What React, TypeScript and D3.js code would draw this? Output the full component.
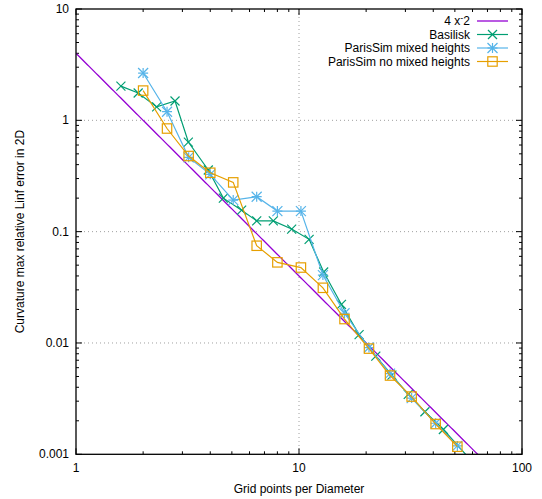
import React from "react";
import * as d3 from "d3";

const basiliskX = [1.59, 1.9, 2.3, 2.78, 3.19, 3.92, 4.58, 5.53, 6.46, 7.67, 9.27, 11.1, 12.9, 15.5, 18.6, 22.1, 26.1, 30.9, 36.7, 44.4, 58];
const basiliskY = [2.03, 1.76, 1.32, 1.49, 0.638, 0.358, 0.2, 0.156, 0.125, 0.125, 0.1055, 0.0853, 0.0434, 0.0222, 0.0119, 0.00762, 0.00515, 0.00345, 0.00241, 0.00167, 0.00092];
const parisX = [2, 2.56, 3.2, 4, 5.07, 6.46, 8, 10.2, 12.8, 16, 20.6, 25.6, 32, 41, 51.3];
const mixedY = [2.66, 1.195, 0.465, 0.327, 0.192, 0.206, 0.153, 0.153, 0.0407, 0.0185, 0.0091, 0.0053, 0.0032, 0.0019, 0.00119];
const noMixedY = [1.85, 0.844, 0.478, 0.338, 0.277, 0.0747, 0.053, 0.0476, 0.0313, 0.0164, 0.0089, 0.0051, 0.0033, 0.00187, 0.00117];
const xTicks = [1, 10, 100];
const yTicks = [0.001, 0.01, 0.1, 1, 10];
const xTickLabels = ["1", "10", "100"];
const yTickLabels = ["0.001", "0.01", "0.1", "1", "10"];

const W = 542, H = 499;
const L = 76, R = 522, T = 9, B = 454.3;
const FONT = "'Liberation Sans', Arial, sans-serif";

export default function App() {
  const x = d3.scaleLog().domain([1, 100]).range([L, R]);
  const y = d3.scaleLog().domain([0.001, 10]).range([B, T]);
  const line = d3.line<[number, number]>().x(d => x(d[0])).y(d => y(d[1]));

  const refX = d3.range(0, 201).map(i => Math.pow(10, (i / 200) * 2));
  const refPts: [number, number][] = refX.map(v => [v, 4 / (v * v)]);
  const bas: [number, number][] = basiliskX.map((v, i) => [v, basiliskY[i]]);
  const mix: [number, number][] = parisX.map((v, i) => [v, mixedY[i]]);
  const nom: [number, number][] = parisX.map((v, i) => [v, noMixedY[i]]);

  const C1 = "#9400d3", C2 = "#009e73", C3 = "#56b4e9", C4 = "#e69f00";

  const cross = (cx: number, cy: number, c: string, k: string, s = 4.5) => (
    <g key={k} stroke={c} strokeWidth={1.2}>
      <line x1={cx - s} y1={cy - s} x2={cx + s} y2={cy + s} />
      <line x1={cx - s} y1={cy + s} x2={cx + s} y2={cy - s} />
    </g>
  );
  const star = (cx: number, cy: number, c: string, k: string, s = 5) => (
    <g key={k} stroke={c} strokeWidth={1.2}>
      <line x1={cx - s} y1={cy - s} x2={cx + s} y2={cy + s} />
      <line x1={cx - s} y1={cy + s} x2={cx + s} y2={cy - s} />
      <line x1={cx - s} y1={cy} x2={cx + s} y2={cy} />
      <line x1={cx} y1={cy - s} x2={cx} y2={cy + s} />
    </g>
  );
  const square = (cx: number, cy: number, c: string, k: string, s = 4.7) => (
    <rect key={k} x={cx - s} y={cy - s} width={2 * s} height={2 * s} fill="none" stroke={c} strokeWidth={1.2} />
  );

  const minorX: number[] = [];
  [1, 10].forEach(d => { for (let m = 2; m <= 9; m++) minorX.push(d * m); });
  const minorY: number[] = [];
  [0.001, 0.01, 0.1, 1].forEach(d => { for (let m = 2; m <= 9; m++) minorY.push(d * m); });

  const legendRows = [
    { label: "4 x^-2", color: C1, mk: null as any },
    { label: "Basilisk", color: C2, mk: cross },
    { label: "ParisSim mixed heights", color: C3, mk: star },
    { label: "ParisSim no mixed heights", color: C4, mk: square },
  ];

  return (
    <svg width={W} height={H} style={{ position: "absolute", left: 0, top: 0 }} fontFamily={FONT}>
      <rect width={W} height={H} fill="#fff" />
      <defs>
        <clipPath id="plot">
          <rect x={L} y={T} width={R - L} height={B - T} />
        </clipPath>
      </defs>
      {/* grid */}
      <g stroke="#a0a0a0" strokeWidth={1} strokeDasharray="1,3">
        <line x1={x(10)} x2={x(10)} y1={T} y2={B} />
        {[0.01, 0.1, 1].map(v => (
          <line key={v} x1={L} x2={R} y1={y(v)} y2={y(v)} />
        ))}
      </g>
      {/* ticks */}
      <g stroke="#000" strokeWidth={1}>
        {xTicks.map(v => (
          <g key={"xt" + v}>
            <line x1={x(v)} x2={x(v)} y1={B} y2={B - 6} />
            <line x1={x(v)} x2={x(v)} y1={T} y2={T + 6} />
          </g>
        ))}
        {minorX.map(v => (
          <g key={"xm" + v}>
            <line x1={x(v)} x2={x(v)} y1={B} y2={B - 3} />
            <line x1={x(v)} x2={x(v)} y1={T} y2={T + 3} />
          </g>
        ))}
        {yTicks.map(v => (
          <g key={"yt" + v}>
            <line x1={L} x2={L + 6} y1={y(v)} y2={y(v)} />
            <line x1={R} x2={R - 6} y1={y(v)} y2={y(v)} />
          </g>
        ))}
        {minorY.map(v => (
          <g key={"ym" + v}>
            <line x1={L} x2={L + 3} y1={y(v)} y2={y(v)} />
            <line x1={R} x2={R - 3} y1={y(v)} y2={y(v)} />
          </g>
        ))}
      </g>
      {/* data */}
      <g clipPath="url(#plot)" fill="none">
        <path d={line(refPts) || ""} stroke={C1} strokeWidth={1.3} />
        <path d={line(bas) || ""} stroke={C2} strokeWidth={1.2} />
        {bas.filter(d => d[1] >= 0.001).map((d, i) => cross(x(d[0]), y(d[1]), C2, "b" + i))}
        <path d={line(mix) || ""} stroke={C3} strokeWidth={1.2} />
        {mix.map((d, i) => star(x(d[0]), y(d[1]), C3, "m" + i))}
        <path d={line(nom) || ""} stroke={C4} strokeWidth={1.2} />
        {nom.map((d, i) => square(x(d[0]), y(d[1]), C4, "n" + i))}
      </g>
      {/* frame */}
      <rect x={L} y={T} width={R - L} height={B - T} fill="none" stroke="#000" strokeWidth={1.3} />
      {/* tick labels */}
      <g fontSize={12} fill="#000">
        {xTicks.map((v, i) => (
          <text key={"xl" + v} x={x(v)} y={B + 18} textAnchor="middle">{xTickLabels[i]}</text>
        ))}
        {yTicks.map((v, i) => (
          <text key={"yl" + v} x={L - 7} y={y(v) + 4} textAnchor="end">{yTickLabels[i]}</text>
        ))}
        <text x={(L + R) / 2} y={493} textAnchor="middle">Grid points per Diameter</text>
        <text transform={`translate(24, ${(T + B) / 2}) rotate(-90)`} textAnchor="middle">Curvature max relative Linf error in 2D</text>
      </g>
      {/* legend */}
      <g fontSize={12}>
        {legendRows.map((r, i) => {
          const ly = 21 + i * 13.5;
          return (
            <g key={"lg" + i}>
              {i === 0 ? (
                <text x={470} y={ly + 4} textAnchor="end">
                  4 x<tspan dy={-4} fontSize={9}>-</tspan><tspan dy={4}>2</tspan>
                </text>
              ) : (
                <text x={470} y={ly + 4} textAnchor="end">{r.label}</text>
              )}
              <line x1={477} x2={508} y1={ly} y2={ly} stroke={r.color} strokeWidth={i === 0 ? 1.3 : 1.2} />
              {r.mk ? r.mk(492.5, ly, r.color, "lm" + i) : null}
            </g>
          );
        })}
      </g>
    </svg>
  );
}
